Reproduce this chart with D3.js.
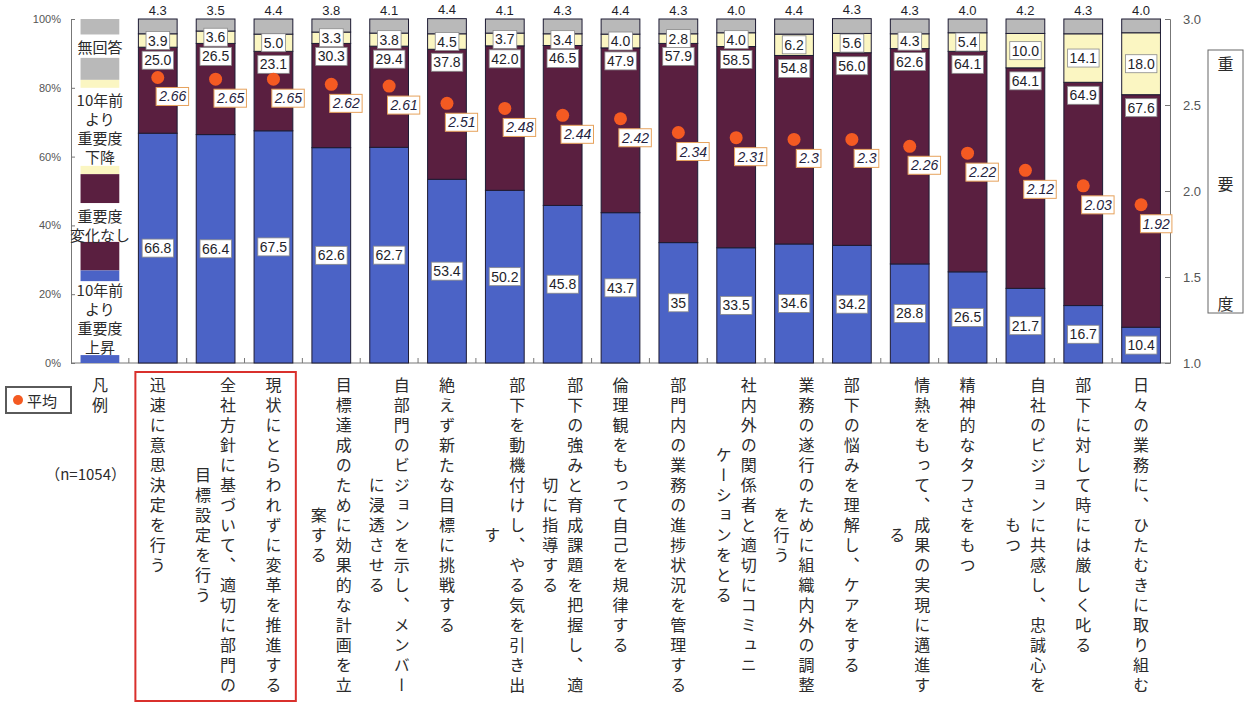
<!DOCTYPE html>
<html lang="ja">
<head>
<meta charset="utf-8">
<script src="https://cdn.jsdelivr.net/npm/d3@7/dist/d3.min.js"></script>
<style>
  html, body { margin: 0; padding: 0; background: #fff; }
  svg { display: block; }
  .jp { font-family: "Noto Sans CJK JP", "Noto Sans", sans-serif; fill: #2b2b2b; }
  .num { font-family: "Liberation Sans", Arial, sans-serif; }
  .vert { writing-mode: vertical-rl; }
</style>
</head>
<body>
<svg id="chart" width="1248" height="702"></svg>
<script>
// 項目（縦書きラベルの各列）
const categories = [
  ["迅速に意思決定を行う"],
  ["全社方針に基づいて、適切に部門の", "目標設定を行う"],
  ["現状にとらわれずに変革を推進する"],
  ["目標達成のために効果的な計画を立", "案する"],
  ["自部門のビジョンを示し、メンバー", "に浸透させる"],
  ["絶えず新たな目標に挑戦する"],
  ["部下を動機付けし、やる気を引き出", "す"],
  ["部下の強みと育成課題を把握し、適", "切に指導する"],
  ["倫理観をもって自己を規律する"],
  ["部門内の業務の進捗状況を管理する"],
  ["社内外の関係者と適切にコミュニ", "ケーションをとる"],
  ["業務の遂行のために組織内外の調整", "を行う"],
  ["部下の悩みを理解し、ケアをする"],
  ["情熱をもって、成果の実現に邁進す", "る"],
  ["精神的なタフさをもつ"],
  ["自社のビジョンに共感し、忠誠心を", "もつ"],
  ["部下に対して時には厳しく叱る"],
  ["日々の業務に、ひたむきに取り組む"]
];

// 10年前より重要度上昇 (%)
const rise      = [66.8, 66.4, 67.5, 62.6, 62.7, 53.4, 50.2, 45.8, 43.7, 35, 33.5, 34.6, 34.2, 28.8, 26.5, 21.7, 16.7, 10.4];
// 重要度変化なし (%)
const unchanged = [25.0, 26.5, 23.1, 30.3, 29.4, 37.8, 42.0, 46.5, 47.9, 57.9, 58.5, 54.8, 56.0, 62.6, 64.1, 64.1, 64.9, 67.6];
// 10年前より重要度下降 (%)
const fall      = [3.9, 3.6, 5.0, 3.3, 3.8, 4.5, 3.7, 3.4, 4.0, 2.8, 4.0, 6.2, 5.6, 4.3, 5.4, 10.0, 14.1, 18.0];
// 無回答 (%)
const noAnswer  = [4.3, 3.5, 4.4, 3.8, 4.1, 4.4, 4.1, 4.3, 4.4, 4.3, 4.0, 4.4, 4.3, 4.3, 4.0, 4.2, 4.3, 4.0];
// 平均（重要度, 右軸）
const average   = [2.66, 2.65, 2.65, 2.62, 2.61, 2.51, 2.48, 2.44, 2.42, 2.34, 2.31, 2.3, 2.3, 2.26, 2.22, 2.12, 2.03, 1.92];

const leftTicks  = [0, 20, 40, 60, 80, 100];
const rightTicks = [1.0, 1.5, 2.0, 2.5, 3.0];
const seriesKeys = ["rise", "unchanged", "fall", "noAnswer"];
const colors = { rise: "#4b63c6", unchanged: "#5a1f40", fall: "#fbf6c2", noAnswer: "#b9b9b9" };

const rows = categories.map((c, i) => ({
  id: "c" + i, lines: c,
  rise: rise[i], unchanged: unchanged[i], fall: fall[i], noAnswer: noAnswer[i], average: average[i]
}));

const svg = d3.select("#chart");

const x = d3.scaleBand()
  .domain(["legend", ...rows.map(r => r.id)])
  .range([71, 1170])
  .paddingInner(0.33)
  .paddingOuter(0.165);
const y  = d3.scaleLinear().domain([0, 100]).range([363, 19]);
const y2 = d3.scaleLinear().domain([1, 3]).range([363, 19]);
const bw = x.bandwidth();
const cx = id => x(id) + bw / 2;

// ---- 軸 ----
const leftAxis = d3.axisLeft(y).tickValues(leftTicks).tickSize(-4).tickPadding(10)
  .tickFormat(d => d + "%");
const gL = svg.append("g").attr("transform", "translate(71,0)").call(leftAxis);
gL.select(".domain").attr("stroke", "#777");
gL.selectAll(".tick line").attr("stroke", "#777");
gL.selectAll(".tick text").attr("class", "num").attr("fill", "#555").attr("font-size", 11);

const rightAxis = d3.axisRight(y2).tickValues(rightTicks).tickSize(-5).tickPadding(13)
  .tickFormat(d3.format(".1f"));
const gR = svg.append("g").attr("transform", "translate(1170,0)").call(rightAxis);
gR.select(".domain").attr("stroke", "#777");
gR.selectAll(".tick line").attr("stroke", "#777");
gR.selectAll(".tick text").attr("class", "num").attr("fill", "#555").attr("font-size", 13);

// 下の基線と区切り目盛
svg.append("line").attr("x1", 71).attr("x2", 1170).attr("y1", y(0)).attr("y2", y(0))
  .attr("stroke", "#777");
const step = x.step();
svg.append("g").selectAll("line")
  .data(d3.range(1, x.domain().length))
  .join("line")
  .attr("x1", i => x(x.domain()[i]) - step * 0.165)
  .attr("x2", i => x(x.domain()[i]) - step * 0.165)
  .attr("y1", y(0)).attr("y2", y(0) - 5)
  .attr("stroke", "#777");

// ---- 積み上げ棒 ----
const stack = d3.stack().keys(seriesKeys)(rows);
const gBars = svg.append("g");
stack.forEach(layer => {
  gBars.append("g").selectAll("rect")
    .data(layer)
    .join("rect")
    .attr("x", d => x(d.data.id))
    .attr("width", bw)
    .attr("y", d => y(d[1]))
    .attr("height", d => y(d[0]) - y(d[1]))
    .attr("fill", colors[layer.key])
    .attr("stroke", "#1d1b33")
    .attr("stroke-width", 1);
});

// ---- 数値ラベル ----
function boxLabel(g, px, py, text, opts = {}) {
  const fs = opts.size || 14;
  const t = g.append("text")
    .attr("class", "num")
    .attr("x", px).attr("y", py)
    .attr("text-anchor", "middle")
    .attr("dominant-baseline", "central")
    .attr("font-size", fs)
    .attr("font-style", opts.italic ? "italic" : "normal")
    .attr("fill", opts.color || "#1e1e2a")
    .text(text);
  if (opts.box) {
    const bb = t.node().getBBox();
    g.insert("rect", () => t.node())
      .attr("x", bb.x - 2).attr("y", bb.y - 1)
      .attr("width", bb.width + 4).attr("height", bb.height + 2)
      .attr("fill", "#fff")
      .attr("stroke", opts.stroke || "#8a8a8a")
      .attr("stroke-width", opts.strokeWidth || 0.8);
  }
}

const fmt1 = d3.format(".1f");
const fmtTrim = d3.format(".1~f");
const gLab = svg.append("g");
const layerOf = k => stack.find(l => l.key === k);

layerOf("rise").forEach(d => {
  boxLabel(gLab.append("g"), cx(d.data.id), (y(d[0]) + y(d[1])) / 2, fmtTrim(d.data.rise), { box: true });
});
layerOf("unchanged").forEach(d => {
  boxLabel(gLab.append("g"), cx(d.data.id), y(d[1]) + 13, fmt1(d.data.unchanged), { box: true });
});
layerOf("fall").forEach(d => {
  boxLabel(gLab.append("g"), cx(d.data.id), (y(d[0]) + y(d[1])) / 2, fmt1(d.data.fall), { box: true });
});
layerOf("noAnswer").forEach(d => {
  boxLabel(gLab.append("g"), cx(d.data.id), y(d[1]) - 9, fmt1(d.data.noAnswer), { size: 13 });
});

// ---- 平均（点とラベル） ----
const gAvg = svg.append("g");
gAvg.selectAll("circle")
  .data(rows)
  .join("circle")
  .attr("cx", d => cx(d.id))
  .attr("cy", d => y2(d.average))
  .attr("r", 6.5)
  .attr("fill", "#f45a22");
rows.forEach(d => {
  boxLabel(gAvg.append("g"), cx(d.id) + 15, y2(d.average) + 19, d3.format("~")(d.average),
    { box: true, italic: true, stroke: "#e6a25c", strokeWidth: 1, color: "#1f2340" });
});

// ---- 凡例（左端の見本棒） ----
const lx = x("legend");
const legendPieces = [
  { key: "noAnswer",  from: 100,  to: 95.5 },
  { key: "noAnswer",  from: 88.7, to: 82.3 },
  { key: "fall",      from: 82.3, to: 80.0 },
  { key: "fall",      from: 57.3, to: 54.9 },
  { key: "unchanged", from: 54.9, to: 46.5 },
  { key: "unchanged", from: 35.2, to: 26.9 },
  { key: "rise",      from: 26.9, to: 23.8 },
  { key: "rise",      from: 2.3,  to: 0 }
];
svg.append("g").selectAll("rect")
  .data(legendPieces)
  .join("rect")
  .attr("x", lx).attr("width", bw)
  .attr("y", d => y(d.from))
  .attr("height", d => y(d.to) - y(d.from))
  .attr("fill", d => colors[d.key]);

const legendTexts = [
  { at: 91.9, lines: ["無回答"] },
  { at: 68.4, lines: ["10年前", "より", "重要度", "下降"] },
  { at: 40.2, lines: ["重要度", "変化なし"] },
  { at: 13.0, lines: ["10年前", "より", "重要度", "上昇"] }
];
const gLT = svg.append("g");
legendTexts.forEach(t => {
  const n = t.lines.length;
  t.lines.forEach((ln, j) => {
    gLT.append("text")
      .attr("class", "jp")
      .attr("x", lx + bw / 2)
      .attr("y", y(t.at) + (j - (n - 1) / 2) * 19)
      .attr("text-anchor", "middle")
      .attr("dominant-baseline", "central")
      .attr("font-size", 15)
      .text(ln);
  });
});

// ---- 項目ラベル（縦書き） ----
const topY = 377, charStep = 20, colGap = 25;
const gCat = svg.append("g");
rows.forEach(d => {
  const n = d.lines.length;
  const maxLen = d3.max(d.lines, s => s.length);
  d.lines.forEach((ln, j) => {
    gCat.append("text")
      .attr("class", "jp vert")
      .attr("x", cx(d.id) + ((n - 1) / 2 - j) * colGap)
      .attr("y", topY + maxLen * charStep / 2)
      .attr("text-anchor", "middle")
      .attr("font-size", 16)
      .attr("letter-spacing", charStep - 16)
      .text(ln);
  });
});

// 凡例見出し
svg.append("text").attr("class", "jp vert")
  .attr("x", cx("legend")).attr("y", topY)
  .attr("font-size", 16).attr("letter-spacing", 4).text("凡例");

// 上位3項目の囲み
const firstId = rows[0].id, thirdId = rows[2].id;
svg.append("rect")
  .attr("x", x(firstId) - 3)
  .attr("y", 372)
  .attr("width", x(thirdId) + bw + 3 - (x(firstId) - 3))
  .attr("height", 329)
  .attr("fill", "none")
  .attr("stroke", "#d9302c")
  .attr("stroke-width", 2);

svg.append("text").attr("class", "jp")
  .attr("x", 126).attr("y", 473)
  .attr("text-anchor", "end").attr("dominant-baseline", "central")
  .attr("font-size", 15).text("（n=1054）");

// 右軸タイトル
const gRT = svg.append("g");
gRT.append("rect").attr("x", 1208).attr("y", 50).attr("width", 35).attr("height", 263)
  .attr("fill", "#fff").attr("stroke", "#666");
["重", "要", "度"].forEach((c, i) => {
  gRT.append("text").attr("class", "jp")
    .attr("x", 1225.5).attr("y", 63 + i * 120)
    .attr("text-anchor", "middle").attr("dominant-baseline", "central")
    .attr("font-size", 16).text(c);
});

// 平均の凡例（枠・点・文字）
const gAvgLeg = svg.append("g");
gAvgLeg.append("rect")
  .attr("x", 6).attr("y", 387).attr("width", 65).attr("height", 26)
  .attr("fill", "#fff").attr("stroke", "#5a5a5a").attr("stroke-width", 2);
gAvgLeg.append("circle").attr("cx", 18).attr("cy", 400).attr("r", 5).attr("fill", "#f45a22");
gAvgLeg.append("text").attr("class", "jp").attr("x", 27).attr("y", 400)
  .attr("dominant-baseline", "central").attr("font-size", 15).text("平均");
</script>
</body>
</html>
